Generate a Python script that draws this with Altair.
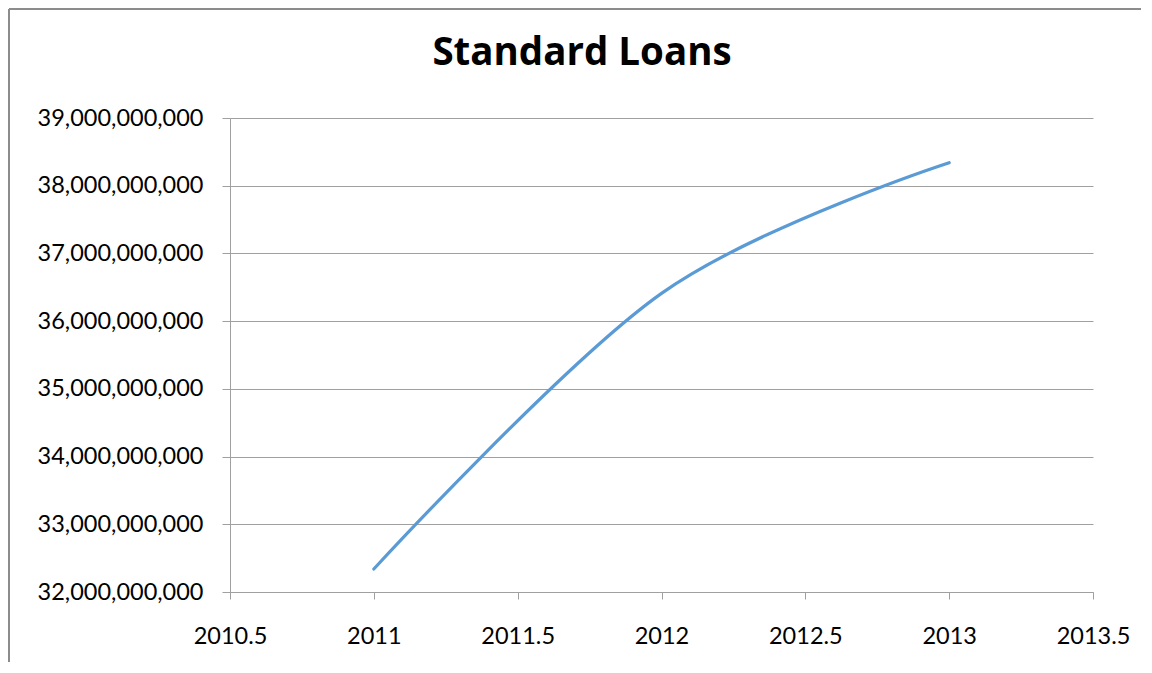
import altair as alt
import pandas as pd

years = [2011, 2012, 2013]
loans = [32.34e9, 36.41e9, 38.34e9]
x_ticks = [2010.5, 2011, 2011.5, 2012, 2012.5, 2013, 2013.5]
y_ticks = [32e9, 33e9, 34e9, 35e9, 36e9, 37e9, 38e9, 39e9]
title_text = "Standard Loans"

df = pd.DataFrame({"year": years, "loans": loans})

W, H = 863, 474
PL, PT, PR, PB = 222, 110, 48, 70
FONT = "Lato"
GRAY = "#a0a0a0"

line = alt.Chart(df).mark_line(
    color="#5b9bd5", strokeWidth=3.2, interpolate="cardinal", strokeCap="round"
).encode(
    x=alt.X("year:Q",
            scale=alt.Scale(domain=[2010.5, 2013.5], nice=False, zero=False),
            axis=alt.Axis(values=x_ticks, title=None, grid=False,
                          labelExpr="'' + datum.value", labelFlush=False,
                          labelOverlap=False,
                          tickSize=7, labelPadding=25, labelFontSize=23.5,
                          labelFont=FONT, labelColor="#000000",
                          domainColor=GRAY, tickColor=GRAY)),
    y=alt.Y("loans:Q",
            scale=alt.Scale(domain=[32e9, 39e9], nice=False, zero=False),
            axis=alt.Axis(values=y_ticks, title=None, format=",d",
                          grid=True, gridColor=GRAY, tickSize=8,
                          labelPadding=19, labelFontSize=23.5, labelFont=FONT,
                          labelFlush=False, labelOverlap=False,
                          labelColor="#000000", domainColor=GRAY,
                          tickColor=GRAY)),
)

one = alt.Data(values=[{}])

frame_left = alt.Chart(one).mark_rule(color="#8c8c8c", strokeWidth=2).encode(
    x=alt.value(-PL + 1), y=alt.value(-PT + 1), y2=alt.value(H + PB)
)
frame_top = alt.Chart(one).mark_rule(color="#8c8c8c", strokeWidth=2).encode(
    x=alt.value(-PL + 1), x2=alt.value(W + PR), y=alt.value(-PT + 1)
)

title = alt.Chart(alt.Data(values=[{"t": title_text}])).mark_text(
    font="Open Sans", fontSize=38.5, fontWeight="bold", color="#000000",
    align="center", baseline="alphabetic"
).encode(
    x=alt.value(582 - 230), y=alt.value(65 - 118), text="t:N"
)

chart = alt.layer(line, frame_left, frame_top, title).properties(
    width=W, height=H,
    autosize=alt.AutoSizeParams(type="none"),
    padding={"left": PL, "top": PT, "right": PR, "bottom": PB},
).configure_view(stroke=None)

chart.save("out.html", embed_options={"renderer": "svg", "actions": False})
